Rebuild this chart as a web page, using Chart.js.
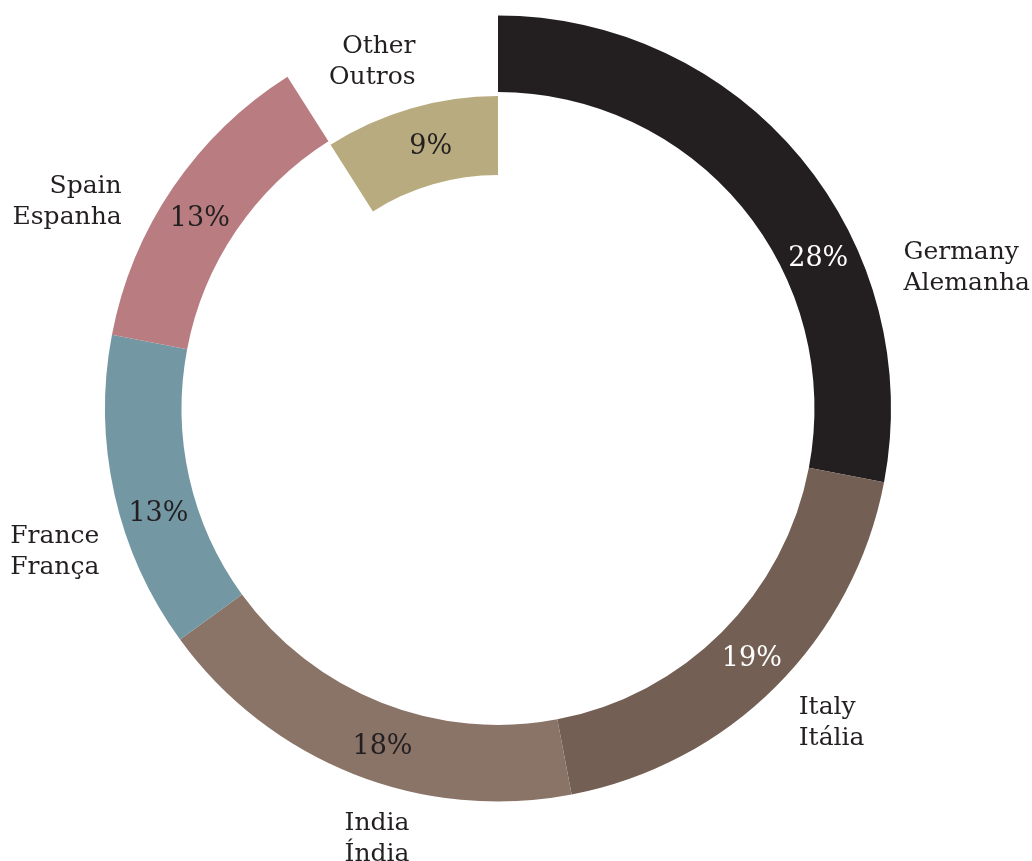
<!DOCTYPE html>
<html>
<head>
<meta charset="utf-8">
<script src="https://cdn.jsdelivr.net/npm/chart.js@4.4.1/dist/chart.umd.min.js"></script>
<style>
  html, body { margin: 0; padding: 0; background: #ffffff; }
  #wrap { width: 1032px; height: 861px; position: relative; }
</style>
</head>
<body>
<div id="wrap"><canvas id="chart"></canvas></div>
<script>
// Export destinations (English / Portuguese) and their shares in percent
const countries   = ['Germany', 'Italy', 'India', 'France', 'Spain', 'Other'];
const countriesPt = ['Alemanha', 'Itália', 'Índia', 'França', 'Espanha', 'Outros'];
const shares      = [28, 19, 18, 13, 13, 9];

// Styling
const sliceColors = ['#231f20', '#735f53', '#8a7367', '#7398a4', '#b97d81', '#b8ab7f'];
const pctColors   = ['#ffffff', '#ffffff', '#231f20', '#231f20', '#231f20', '#231f20'];
const onInnerRing = [false, false, false, false, false, true];

// Label placement: position along each slice (0 = start, 1 = end) and distance factors
const pctAt    = [0.64, 0.49, 0.46, 0.41, 0.47, 0.56];
const nameAt   = [0.70, 0.515, 0.347, 0.353, 0.389, 0.59];
const nameDist = [1.094, 1.102, 1.112, 1.076, 1.095, 1.148];

const FONT = "'DejaVu Serif', serif";
const TEXT = '#231f20';
const CLEAR = 'rgba(0,0,0,0)';

const labelPlugin = {
  id: 'sliceLabels',
  afterDatasetsDraw(chart) {
    const ctx = chart.ctx;
    const outerMeta = chart.getDatasetMeta(0);
    const innerMeta = chart.getDatasetMeta(2);
    ctx.save();
    shares.forEach((v, i) => {
      const arc = (onInnerRing[i] ? innerMeta : outerMeta).data[i];
      const p = arc.getProps(['x', 'y', 'startAngle', 'endAngle', 'innerRadius', 'outerRadius'], true);
      const span = p.endAngle - p.startAngle;

      // percentage inside the slice
      const pa = p.startAngle + span * pctAt[i];
      const pr = (p.innerRadius + p.outerRadius) / 2;
      const pSize = 27;
      ctx.font = pSize + 'px ' + FONT;
      ctx.fillStyle = pctColors[i];
      ctx.textAlign = 'center';
      ctx.textBaseline = 'alphabetic';
      ctx.fillText(v + '%', p.x + Math.cos(pa) * pr, p.y + Math.sin(pa) * pr + 0.3645 * pSize);

      // two-line country name outside the ring
      const na = p.startAngle + span * nameAt[i];
      const nr = p.outerRadius * nameDist[i];
      const nx = p.x + Math.cos(na) * nr;
      const ny = p.y + Math.sin(na) * nr;
      const nSize = 25;
      const lineH = 31;
      ctx.font = nSize + 'px ' + FONT;
      ctx.fillStyle = TEXT;
      ctx.textAlign = nx >= p.x ? 'left' : 'right';
      ctx.fillText(countries[i], nx, ny - lineH / 2 + 0.3645 * nSize);
      ctx.fillText(countriesPt[i], nx, ny + lineH / 2 + 0.3645 * nSize);
    });
    ctx.restore();
  }
};

new Chart(document.getElementById('chart'), {
  type: 'doughnut',
  data: {
    labels: countries,
    datasets: [
      { data: shares, weight: 76.5, borderWidth: 0,
        backgroundColor: sliceColors.map((c, i) => onInnerRing[i] ? CLEAR : c) },
      { data: shares, weight: 4, borderWidth: 0, backgroundColor: CLEAR },
      { data: shares, weight: 79, borderWidth: 0,
        backgroundColor: sliceColors.map((c, i) => onInnerRing[i] ? c : CLEAR) }
    ]
  },
  options: {
    responsive: true,
    maintainAspectRatio: false,
    animation: false,
    events: [],
    radius: 393,
    cutout: '59.4%',
    layout: { padding: { left: 104, right: 140, top: 15, bottom: 59 } },
    plugins: { legend: { display: false }, tooltip: { enabled: false } }
  },
  plugins: [labelPlugin]
});
</script>
</body>
</html>
